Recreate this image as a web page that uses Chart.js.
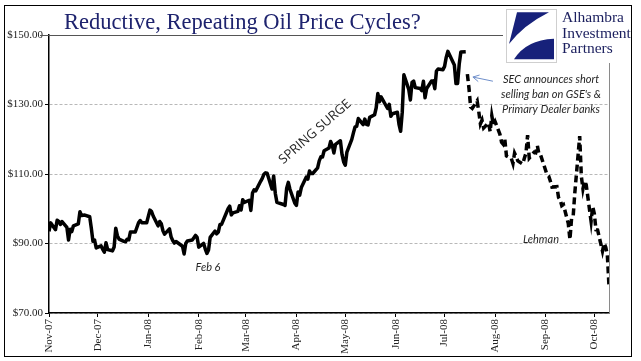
<!DOCTYPE html>
<html>
<head>
<meta charset="utf-8">
<script src="https://cdn.jsdelivr.net/npm/chart.js@4.4.0/dist/chart.umd.min.js"></script>
<style>
html, body { margin: 0; padding: 0; background: #fff; }
canvas { display: block; }
</style>
</head>
<body>
<canvas id="chart" width="641" height="361"></canvas>
<script>
// WTI daily close (Nov 2007 - Oct 2008)
const tradeDates = [
	"2007-11-01","2007-11-02","2007-11-05","2007-11-06","2007-11-07","2007-11-08","2007-11-09","2007-11-12","2007-11-13","2007-11-14","2007-11-15","2007-11-16","2007-11-19","2007-11-20","2007-11-21","2007-11-23","2007-11-26","2007-11-27","2007-11-28","2007-11-29","2007-11-30",
	"2007-12-03","2007-12-04","2007-12-05","2007-12-06","2007-12-07","2007-12-10","2007-12-11","2007-12-12","2007-12-13","2007-12-14","2007-12-17","2007-12-18","2007-12-19","2007-12-20","2007-12-21","2007-12-24","2007-12-26","2007-12-27","2007-12-28","2007-12-31",
	"2008-01-02","2008-01-03","2008-01-04","2008-01-07","2008-01-08","2008-01-09","2008-01-10","2008-01-11","2008-01-14","2008-01-15","2008-01-16","2008-01-17","2008-01-18","2008-01-22","2008-01-23","2008-01-24","2008-01-25","2008-01-28","2008-01-29","2008-01-30","2008-01-31",
	"2008-02-01","2008-02-04","2008-02-05","2008-02-06","2008-02-07","2008-02-08","2008-02-11","2008-02-12","2008-02-13","2008-02-14","2008-02-15","2008-02-19","2008-02-20","2008-02-21","2008-02-22","2008-02-25","2008-02-26","2008-02-27","2008-02-28","2008-02-29",
	"2008-03-03","2008-03-04","2008-03-05","2008-03-06","2008-03-07","2008-03-10","2008-03-11","2008-03-12","2008-03-13","2008-03-14","2008-03-17","2008-03-18","2008-03-19","2008-03-20","2008-03-24","2008-03-25","2008-03-26","2008-03-27","2008-03-28","2008-03-31",
	"2008-04-01","2008-04-02","2008-04-03","2008-04-04","2008-04-07","2008-04-08","2008-04-09","2008-04-10","2008-04-11","2008-04-14","2008-04-15","2008-04-16","2008-04-17","2008-04-18","2008-04-21","2008-04-22","2008-04-23","2008-04-24","2008-04-25","2008-04-28","2008-04-29","2008-04-30",
	"2008-05-01","2008-05-02","2008-05-05","2008-05-06","2008-05-07","2008-05-08","2008-05-09","2008-05-12","2008-05-13","2008-05-14","2008-05-15","2008-05-16","2008-05-19","2008-05-20","2008-05-21","2008-05-22","2008-05-23","2008-05-27","2008-05-28","2008-05-29","2008-05-30",
	"2008-06-02","2008-06-03","2008-06-04","2008-06-05","2008-06-06","2008-06-09","2008-06-10","2008-06-11","2008-06-12","2008-06-13","2008-06-16","2008-06-17","2008-06-18","2008-06-19","2008-06-20","2008-06-23","2008-06-24","2008-06-25","2008-06-26","2008-06-27","2008-06-30",
	"2008-07-01","2008-07-02","2008-07-03","2008-07-07","2008-07-08","2008-07-09","2008-07-10","2008-07-11","2008-07-14","2008-07-15","2008-07-16","2008-07-17","2008-07-18","2008-07-21","2008-07-22","2008-07-23","2008-07-24","2008-07-25","2008-07-28","2008-07-29","2008-07-30","2008-07-31",
	"2008-08-01","2008-08-04","2008-08-05","2008-08-06","2008-08-07","2008-08-08","2008-08-11","2008-08-12","2008-08-13","2008-08-14","2008-08-15","2008-08-18","2008-08-19","2008-08-20","2008-08-21","2008-08-22","2008-08-25","2008-08-26","2008-08-27","2008-08-28","2008-08-29",
	"2008-09-02","2008-09-03","2008-09-04","2008-09-05","2008-09-08","2008-09-09","2008-09-10","2008-09-11","2008-09-12","2008-09-15","2008-09-16","2008-09-17","2008-09-18","2008-09-19","2008-09-22","2008-09-23","2008-09-24","2008-09-25","2008-09-26","2008-09-29","2008-09-30",
	"2008-10-01","2008-10-02","2008-10-03","2008-10-06","2008-10-07","2008-10-08","2008-10-09","2008-10-10"
];

const wtiClose = [
	93.49,95.93,93.98,96.70,96.37,95.46,96.32,94.62,90.99,94.09,93.43,95.10,95.64,99.16,98.03,98.18,97.70,94.42,90.62,91.01,88.71,
	89.31,88.32,87.49,90.23,88.28,87.86,89.00,94.39,92.25,91.27,90.63,90.49,91.24,91.06,93.31,93.31,95.97,96.62,96.00,95.98,
	99.62,99.18,97.91,95.09,96.33,95.67,93.67,92.69,94.20,91.90,90.84,90.13,90.57,89.21,86.99,89.98,90.71,90.99,91.64,92.33,91.75,
	88.96,90.02,88.41,87.14,88.11,91.77,93.59,92.78,93.27,95.46,95.50,100.01,100.74,98.23,98.81,99.23,100.88,99.64,102.59,101.84,
	102.45,99.52,104.52,105.47,105.15,107.90,108.75,109.92,110.33,110.21,105.68,109.42,104.48,101.84,101.22,100.98,105.90,107.58,105.62,101.58,
	100.98,104.83,103.92,106.09,109.09,108.50,110.87,110.11,110.14,111.76,113.79,114.93,114.86,116.69,117.48,119.37,118.30,116.06,118.52,119.57,115.63,113.46,
	112.52,116.32,119.97,121.84,123.53,123.69,125.96,124.23,125.80,124.30,124.12,126.29,127.05,129.07,133.17,130.81,132.19,128.85,130.03,126.62,127.35,
	127.76,124.31,122.30,127.79,138.54,134.35,131.31,136.38,136.74,134.86,134.61,134.01,136.68,131.93,134.62,136.74,136.80,134.55,139.64,140.21,140.00,
	140.97,143.57,145.29,141.37,136.04,136.05,141.65,145.08,145.18,138.74,134.60,129.29,128.88,131.04,127.95,124.44,125.49,123.26,124.73,122.19,126.77,124.17,
	125.10,121.41,119.17,118.58,120.02,115.20,114.45,113.01,116.00,115.01,113.77,112.87,114.53,116.00,121.18,114.59,116.27,116.11,118.15,115.59,115.46,
	109.71,109.35,107.89,106.23,106.34,103.26,102.58,100.87,101.18,95.71,91.15,97.16,97.88,104.55,120.92,109.37,105.73,108.02,106.89,96.37,100.64,
	98.53,93.97,93.88,87.81,90.06,88.95,86.59,77.70
];

// from this date on the line is drawn dashed
const banDate = "2008-07-15";

const monthStarts = ["2007-11-01","2007-12-01","2008-01-01","2008-02-01","2008-03-01","2008-04-01","2008-05-01","2008-06-01","2008-07-01","2008-08-01","2008-09-01","2008-10-01"];
const monthLabels = ["Nov-07","Dec-07","Jan-08","Feb-08","Mar-08","Apr-08","May-08","Jun-08","Jul-08","Aug-08","Sep-08","Oct-08"];
const priceTicks = [70, 90, 110, 130, 150];

const titleText = "Reductive, Repeating Oil Price Cycles?";
const logoLines = ["Alhambra", "Investment", "Partners"];
const secNote = ["SEC announces short", "selling ban on GSE's &", "Primary Dealer banks"];

//Days since Nov 1 2007, used as x value
const origin = Date.UTC(2007, 10, 1);
function dayNum(iso) {
	const [y, m, d] = iso.split("-").map(Number);
	return (Date.UTC(y, m - 1, d) - origin) / 864e5;
}

const solidPts = [];
const dashPts = [];
tradeDates.forEach((d, i) => {
	const pt = { x: dayNum(d), y: wtiClose[i] };
	if (d < banDate) solidPts.push(pt);
	else dashPts.push(pt);
});

// Title, logo and notes drawn on top of the chart
const decorations = {
	id: "decorations",
	afterDraw: (chart) => {
		const { ctx, chartArea } = chart;
		const xs = chart.scales.x;
		const ys = chart.scales.y;

		ctx.save();

		// right edge of the plot
		ctx.strokeStyle = "#8a8a8a";
		ctx.lineWidth = 1;
		ctx.beginPath();
		ctx.moveTo(Math.round(chartArea.right) + 0.5, chartArea.top);
		ctx.lineTo(Math.round(chartArea.right) + 0.5, chartArea.bottom);
		ctx.stroke();

		// title rule along the top
		const topY = Math.round(ys.getPixelForValue(150)) + 0.5;
		ctx.strokeStyle = "#555";
		ctx.beginPath();
		ctx.moveTo(chartArea.left - 9, topY);
		ctx.lineTo(505, topY);
		ctx.stroke();

		// title
		ctx.fillStyle = "#1e236e";
		ctx.font = '22.5px "Liberation Serif"';
		ctx.textAlign = "left";
		ctx.textBaseline = "alphabetic";
		ctx.fillText(titleText, 64, 29);

		// logo
		ctx.fillStyle = "#fff";
		ctx.fillRect(503, 6, 129, 57);
		const bx = 506, by = 9, bw = 50, bh = 53;
		ctx.strokeStyle = "#cfcfcf";
		ctx.strokeRect(bx + 0.5, by + 0.5, bw, bh);
		ctx.fillStyle = "#17217a";
		ctx.beginPath();
		ctx.moveTo(bx + 0.22 * bw, by + 0.06 * bh);
		ctx.lineTo(bx + 0.86 * bw, by + 0.06 * bh);
		ctx.quadraticCurveTo(bx + 0.35 * bw, by + 0.3 * bh, bx + 0.06 * bw, by + 0.66 * bh);
		ctx.closePath();
		ctx.fill();
		ctx.beginPath();
		ctx.moveTo(bx + 0.16 * bw, by + 0.95 * bh);
		ctx.lineTo(bx + 0.96 * bw, by + 0.95 * bh);
		ctx.lineTo(bx + 0.96 * bw, by + 0.56 * bh);
		ctx.quadraticCurveTo(bx + 0.4 * bw, by + 0.58 * bh, bx + 0.16 * bw, by + 0.95 * bh);
		ctx.closePath();
		ctx.fill();
		ctx.fillStyle = "#1b1f5e";
		ctx.font = '15.5px "Liberation Serif"';
		logoLines.forEach((t, i) => ctx.fillText(t, 562, 22 + i * 15.5));

		// notes
		ctx.fillStyle = "#262626";
		ctx.textAlign = "center";
		ctx.textBaseline = "middle";
		ctx.font = 'italic 11px "Lato"';
		ctx.fillText("Feb 6", xs.getPixelForValue(97.7), ys.getPixelForValue(83));
		ctx.fillText("Lehman", xs.getPixelForValue(302.2), ys.getPixelForValue(91.3));
		secNote.forEach((t, i) => {
			ctx.fillText(t, xs.getPixelForValue(308.4), ys.getPixelForValue(137.3 - i * 4.3));
		});

		ctx.save();
		ctx.translate(xs.getPixelForValue(163.4), ys.getPixelForValue(122.1));
		ctx.rotate((-41 * Math.PI) / 180);
		ctx.font = '13px "Open Sans"';
		ctx.fillText("SPRING SURGE", 0, 0);
		ctx.restore();

		// arrow pointing at the ban date
		const hx = xs.getPixelForValue(260.4), hy = ys.getPixelForValue(137.9);
		const tx = xs.getPixelForValue(272.7), ty = ys.getPixelForValue(136.7);
		const ang = Math.atan2(hy - ty, hx - tx);
		ctx.strokeStyle = "#6f8fca";
		ctx.lineWidth = 1;
		ctx.beginPath();
		ctx.moveTo(tx, ty);
		ctx.lineTo(hx, hy);
		ctx.moveTo(hx - 7 * Math.cos(ang - 0.5), hy - 7 * Math.sin(ang - 0.5));
		ctx.lineTo(hx, hy);
		ctx.lineTo(hx - 7 * Math.cos(ang + 0.5), hy - 7 * Math.sin(ang + 0.5));
		ctx.stroke();

		// outer frame
		ctx.strokeStyle = "#000";
		ctx.strokeRect(4.5, 5.5, 627, 351);

		ctx.restore();
	},
};

new Chart(document.getElementById("chart"), {
	type: "line",
	data: {
		datasets: [
			{
				label: "WTI",
				data: solidPts,
				borderColor: "#000",
				borderWidth: 3.5,
				borderJoinStyle: "round",
				pointRadius: 0,
				tension: 0,
			},
			{
				label: "WTI after short selling ban",
				data: dashPts,
				borderColor: "#000",
				borderWidth: 3.5,
				borderDash: [7, 4],
				pointRadius: 0,
				tension: 0,
			},
		],
	},
	options: {
		responsive: false,
		animation: false,
		layout: { padding: { left: 0, right: 32, top: 35, bottom: 0 } },
		plugins: {
			legend: { display: false },
			tooltip: { enabled: false },
		},
		scales: {
			x: {
				type: "linear",
				min: 0,
				max: dayNum(tradeDates[tradeDates.length - 1]),
				afterBuildTicks: (s) => {
					s.ticks = monthStarts.map((d) => ({ value: dayNum(d) }));
				},
				afterFit: (s) => {
					s.height = 48;
				},
				grid: { drawOnChartArea: false, drawTicks: true, tickLength: 4, tickColor: "#000" },
				border: { color: "#000", width: 1.5 },
				ticks: {
					autoSkip: false,
					maxRotation: 90,
					minRotation: 90,
					padding: 2,
					color: "#222",
					font: { family: "Liberation Serif", size: 11 },
					callback: (v, i) => monthLabels[i],
				},
			},
			y: {
				min: 70,
				max: 150,
				afterBuildTicks: (s) => {
					s.ticks = priceTicks.map((v) => ({ value: v }));
				},
				afterFit: (s) => {
					s.width = 49;
				},
				grid: {
					color: (c) => (c.tick && c.tick.value === 150 ? "rgba(0,0,0,0)" : "#b8b8b8"),
					tickColor: "#000",
					tickLength: 4,
					lineWidth: 1,
				},
				border: { color: "#000", width: 1.5, dash: [3, 2] },
				ticks: {
					padding: 2,
					color: "#222",
					font: { family: "Liberation Serif", size: 11 },
					callback: (v) => "$" + v.toFixed(2),
				},
			},
		},
	},
	plugins: [decorations],
});
</script>
</body>
</html>
